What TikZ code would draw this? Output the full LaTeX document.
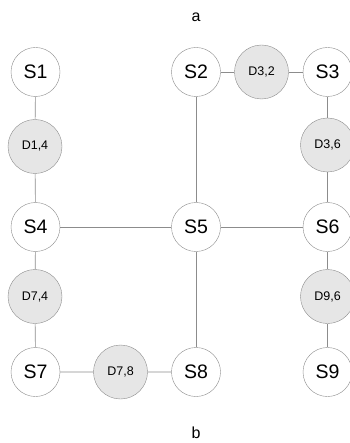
\documentclass[tikz,border=0pt]{standalone}
\usepackage{fontspec}
\setmainfont{Liberation Sans}
\usepackage{tikz}
\usetikzlibrary{positioning}
\usepackage{xcolor}
\definecolor{linegray}{HTML}{8C8C8C}
\definecolor{dfill}{HTML}{E6E6E6}

\begin{document}
\begin{tikzpicture}[x=1pt, y=-1pt,
    site/.style={circle, draw=linegray, fill=white, minimum size=49pt,
                 inner sep=0pt, font=\fontsize{19.5}{19.5}\selectfont},
    dnode/.style={circle, draw=linegray, fill=dfill, minimum size=54pt,
                  inner sep=0pt, font=\fontsize{12.5}{12.5}\selectfont},
    link/.style={draw=linegray, line width=0.6pt},
  ]
    \useasboundingbox (0,0) rectangle (349,443);
    \node[font=\fontsize{16}{16}\selectfont] (ta) at (196, 17) {a};
    \node[font=\fontsize{16}{16}\selectfont] (tb) at (196, 433) {b};

    % sites
    \node[site] (s1) at ( 35.5,  72) {S1};
    \node[site] (s2) at (196,    72) {S2};
    \node[site] (s3) at (327.5,  72) {S3};
    \node[site] (s4) at ( 35.5, 227) {S4};
    \node[site] (s5) at (196,   227) {S5};
    \node[site] (s6) at (327.5, 227) {S6};
    \node[site] (s7) at ( 35.5, 372) {S7};
    \node[site] (s8) at (196,   372) {S8};
    \node[site] (s9) at (327.5, 372) {S9};

    % delay nodes
    \node[dnode] (d32) at (261.5,  72) {D3,2};
    \node[dnode] (d14) at ( 35,   146.5) {D1,4};
    \node[dnode] (d36) at (327.5, 145) {D3,6};
    \node[dnode] (d74) at ( 35,   296.5) {D7,4};
    \node[dnode] (d96) at (327.5, 296.5) {D9,6};
    \node[dnode] (d78) at (120.5, 372) {D7,8};

    \draw[link] (s1) -- (d14) -- (s4) -- (d74) -- (s7) -- (d78) -- (s8);
    \draw[link] (s2) -- (d32) -- (s3) -- (d36) -- (s6) -- (d96) -- (s9);
    \draw[link] (s2) -- (s5) -- (s8);
    \draw[link] (s4) -- (s5) -- (s6);
  \end{tikzpicture}
\end{document}
